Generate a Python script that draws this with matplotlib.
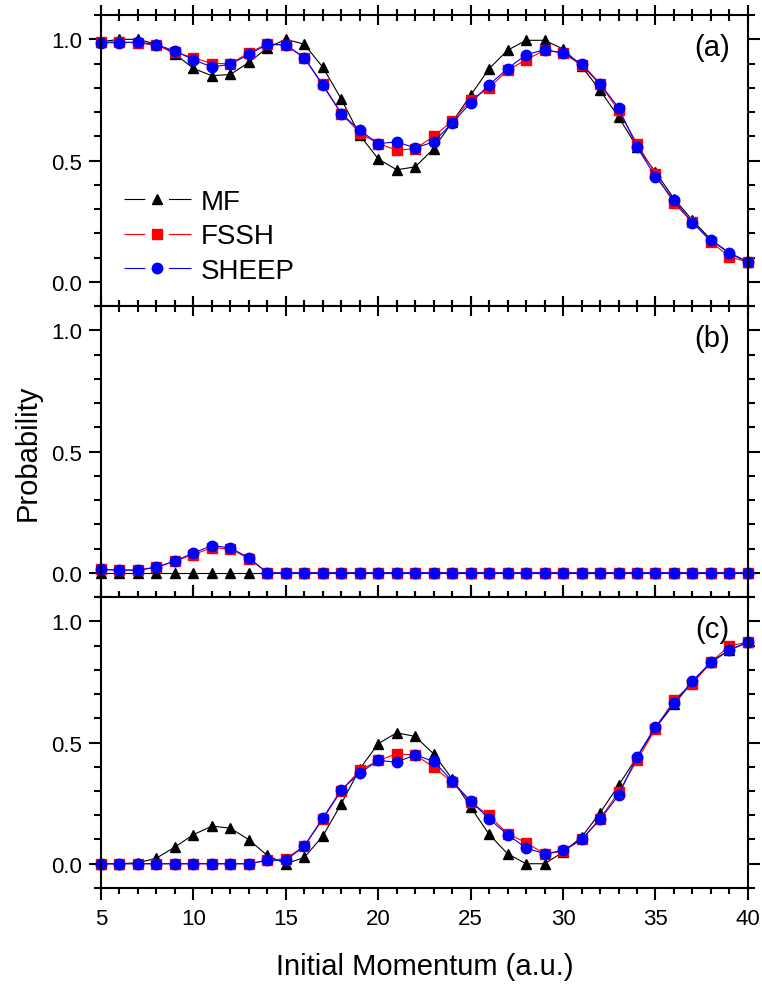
import matplotlib
matplotlib.use("Agg")
import matplotlib.pyplot as plt
from matplotlib.lines import Line2D
from matplotlib.ticker import MultipleLocator

plt.rcParams["font.family"] = ["Liberation Sans", "DejaVu Sans"]

# --- data ----------------------------------------------------------------------
momentum = list(range(5, 41))

# (a)
mf_a = [0.99, 1.00, 1.00, 0.98, 0.94, 0.88, 0.85, 0.855, 0.905, 0.965, 1.00, 0.98,
        0.885, 0.754, 0.605, 0.507, 0.462, 0.474, 0.549, 0.659, 0.769, 0.879, 0.955,
        0.996, 0.996, 0.96, 0.889, 0.79, 0.68, 0.556, 0.453, 0.343, 0.254, 0.174,
        0.117, 0.082]
fssh_a = [0.989, 0.99, 0.985, 0.975, 0.948, 0.924, 0.90, 0.90, 0.944, 0.982, 0.975,
          0.924, 0.815, 0.694, 0.614, 0.57, 0.543, 0.549, 0.60, 0.663, 0.749, 0.80,
          0.872, 0.916, 0.955, 0.944, 0.893, 0.815, 0.707, 0.57, 0.446, 0.323, 0.247,
          0.165, 0.103, 0.082]
sheep_a = [0.986, 0.986, 0.989, 0.978, 0.952, 0.916, 0.886, 0.897, 0.938, 0.979, 0.978,
           0.924, 0.81, 0.694, 0.625, 0.57, 0.577, 0.552, 0.577, 0.655, 0.738, 0.813,
           0.879, 0.937, 0.957, 0.944, 0.90, 0.817, 0.718, 0.556, 0.433, 0.337, 0.243,
           0.172, 0.12, 0.082]

# (b)
mf_b = [0.0] * 36
fssh_b = [0.014, 0.011, 0.012, 0.023, 0.048, 0.075, 0.103, 0.099, 0.058] + [0.0] * 27
sheep_b = [0.014, 0.011, 0.010, 0.023, 0.048, 0.082, 0.112, 0.103, 0.062] + [0.0] * 27

# (c)
mf_c = [0.0, 0.0, 0.004, 0.023, 0.069, 0.12, 0.155, 0.147, 0.099, 0.034, 0.0, 0.026,
        0.114, 0.247, 0.391, 0.495, 0.54, 0.525, 0.453, 0.35, 0.234, 0.121, 0.041,
        0.0, 0.0, 0.048, 0.11, 0.21, 0.323, 0.44, 0.559, 0.659, 0.749, 0.831, 0.882,
        0.913]
fssh_c = [0.0] * 9 + [0.014, 0.021, 0.073, 0.183, 0.302, 0.385, 0.426, 0.453, 0.449,
                      0.398, 0.337, 0.254, 0.199, 0.124, 0.087, 0.041, 0.051, 0.10,
                      0.185, 0.295, 0.426, 0.556, 0.676, 0.742, 0.831, 0.90, 0.913]
sheep_c = [0.0] * 9 + [0.014, 0.014, 0.073, 0.188, 0.305, 0.374, 0.426, 0.419, 0.449,
                       0.422, 0.341, 0.258, 0.185, 0.12, 0.065, 0.041, 0.055, 0.10,
                       0.183, 0.282, 0.442, 0.566, 0.662, 0.754, 0.831, 0.882, 0.913]

panels = [("(a)", mf_a, fssh_a, sheep_a),
          ("(b)", mf_b, fssh_b, sheep_b),
          ("(c)", mf_c, fssh_c, sheep_c)]

series_names = ["MF", "FSSH", "SHEEP"]
styles = [dict(color="black", marker="^", ms=7.5),
          dict(color="#ff0000", marker="s", ms=6.5),
          dict(color="#0000ff", marker="o", ms=7.5)]

# --- figure --------------------------------------------------------------------
fig = plt.figure(figsize=(7.62, 9.87), dpi=100)
left, width = 0.1325, 0.849
h = 0.2948
bottoms = [0.0993 + 2 * h, 0.0993 + h, 0.0993]

axes = []
for i, (tag, mf, fssh, sheep) in enumerate(panels):
    ax = fig.add_axes([left, bottoms[i], width, h])
    axes.append(ax)
    for ys, st in zip((mf, fssh, sheep), styles):
        ax.plot(momentum, ys, "-", lw=0.8, mec=st["color"], mfc=st["color"],
                clip_on=False, **st)
    ax.set_xlim(5, 40)
    ax.set_ylim(-0.1, 1.1)
    ax.xaxis.set_major_locator(MultipleLocator(5))
    ax.xaxis.set_minor_locator(MultipleLocator(1))
    ax.yaxis.set_major_locator(MultipleLocator(0.5))
    ax.yaxis.set_minor_locator(MultipleLocator(0.1))
    ax.yaxis.set_major_formatter(plt.FormatStrFormatter("%.1f"))
    for sp in ax.spines.values():
        sp.set_linewidth(1.5)

    xdir = "out" if i == 2 else "inout"
    xmaj, xmin = (8.5, 4.5) if i == 2 else (14, 9)
    ax.tick_params(axis="x", which="both", top=True, bottom=True, direction=xdir,
                   width=1.5, labelbottom=(i == 2), labelsize=16, pad=6)
    ax.tick_params(axis="x", which="major", length=xmaj)
    ax.tick_params(axis="x", which="minor", length=xmin)
    ax.tick_params(axis="y", which="both", left=True, right=True, direction="out",
                   width=1.5, labelsize=16, pad=5)
    ax.tick_params(axis="y", which="major", length=8.5)
    ax.tick_params(axis="y", which="minor", length=5)

    ax.text(0.972, 0.89, tag, transform=ax.transAxes, ha="right", va="center",
            fontsize=21)

# legend with the line broken around the marker (Origin style)
handles = [Line2D([], [], lw=0.8, linestyle=(0, (18.75, 21.25, 18.75, 0.01)),
                  **st) for st in styles]
axes[0].legend(handles, series_names, loc="lower left",
               bbox_to_anchor=(0.01, 0.02), frameon=False, fontsize=20,
               handlelength=2.4, handletextpad=0.35, labelspacing=0.3,
               numpoints=1, borderaxespad=0.2)

fig.text(28 / 762, 0.5415, "Probability", rotation=90, ha="center", va="center",
         fontsize=21)
fig.text(0.557, 1 - 967 / 987, "Initial Momentum (a.u.)", ha="center",
         va="center", fontsize=21)

fig.savefig("out.png", dpi=100)
